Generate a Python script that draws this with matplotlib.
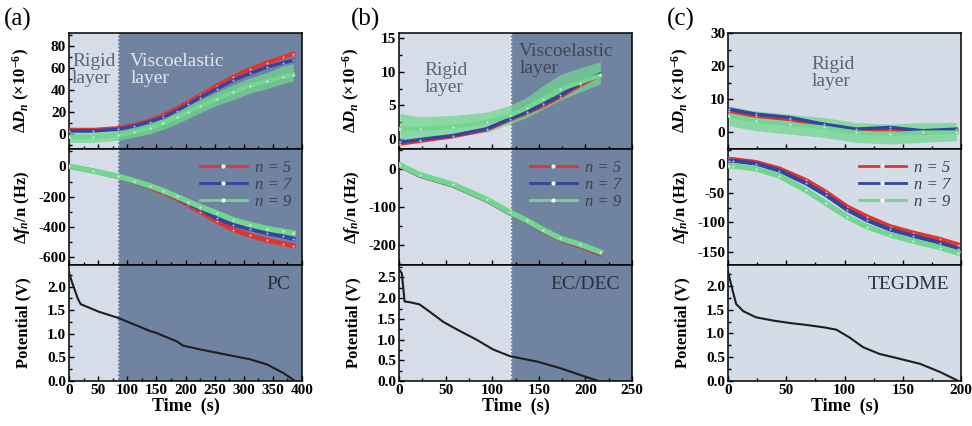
"""
QCM-D traces (dissipation, frequency, potential) for PC, EC/DEC and TEGDME
"""

import matplotlib
matplotlib.use('Agg')
import matplotlib.pyplot as plt
from matplotlib.ticker import MultipleLocator, FormatStrFormatter

plt.rcParams['font.family'] = 'Liberation Serif'
plt.rcParams['font.weight'] = 'bold'
plt.rcParams['axes.labelweight'] = 'bold'
plt.rcParams['axes.unicode_minus'] = False
plt.rcParams['mathtext.fontset'] = 'custom'
plt.rcParams['mathtext.rm'] = 'Liberation Serif:bold'
plt.rcParams['mathtext.it'] = 'Liberation Serif:bold:italic'
plt.rcParams['mathtext.bf'] = 'Liberation Serif:bold'

# ---------------- data ----------------
# (a) PC
a_t = [0, 42, 84, 112, 139, 162, 185, 205, 225, 254, 282, 311, 340, 368, 385]
a_D5 = [3.5, 3.5, 5, 8, 12, 17, 23, 29, 35, 44, 52, 59, 65, 70, 73]
a_D7 = [2.5, 2.5, 4, 7, 11, 15, 21, 27, 33, 41, 49, 55, 61, 65, 67]
a_D9 = [-3, -3, -1.5, 1.5, 5, 10, 15, 20, 25, 32, 38, 44, 48, 52, 54]
a_D9_lo = [-8, -8, -6, -3, 0, 4, 9, 14, 19, 26, 31, 37, 41, 46, 48]
a_D9_hi = [2, 2, 3, 6, 10, 15, 21, 26, 31, 38, 45, 51, 56, 62, 64]
a_f5 = [0, -30, -67, -100, -136, -172, -211, -255, -298, -362, -416, -455, -486, -509, -522]
a_f7 = [0, -30, -67, -98, -132, -165, -205, -245, -280, -341, -384, -412, -440, -462, -477]
a_f9 = [0, -30, -65, -95, -128, -160, -198, -232, -265, -308, -352, -384, -410, -428, -440]
a_tV = [0, 5, 15, 20, 51, 84, 139, 150, 185, 196, 225, 282, 311, 340, 368, 388]
a_V = [2.3, 2.1, 1.75, 1.63, 1.47, 1.34, 1.06, 1.02, 0.84, 0.75, 0.67, 0.53, 0.46, 0.35, 0.17, 0.0]

# (b) EC/DEC
b_t = [1, 22, 58, 94, 119, 137, 155, 173, 194, 216]
b_D5 = [-0.7, -0.3, 0.4, 1.4, 2.9, 3.9, 5.0, 6.3, 8.0, 9.6]
b_D7 = [-0.5, -0.1, 0.5, 1.5, 3.0, 4.0, 5.2, 6.5, 8.2, 9.7]
b_D9 = [1.5, 1.5, 1.8, 2.5, 3.5, 4.6, 6.0, 7.4, 8.4, 9.5]
b_D9_lo = [-0.5, 0.0, 0.3, 1.0, 2.2, 3.2, 4.5, 5.8, 7.0, 8.2]
b_D9_hi = [3.8, 3.3, 3.5, 4.0, 5.0, 6.2, 8.0, 9.6, 10.6, 11.5]
b_f5 = [8.6, -17, -43, -82, -116, -137, -163, -185, -202, -223]
b_f7 = [8.6, -17, -43, -82, -116, -137, -162, -184, -200, -221]
b_f9 = [10, -15, -41, -80, -114, -135, -160, -182, -198, -218]
b_tV = [0, 3, 6, 12, 22, 33, 48, 65, 83, 101, 119, 148, 173, 198, 214]
b_V = [2.7, 2.6, 1.92, 1.9, 1.85, 1.67, 1.42, 1.21, 1.0, 0.76, 0.6, 0.47, 0.31, 0.12, 0.0]

# (c) TEGDME
c_tD = [1, 24, 53, 82, 110, 139, 167, 196]
c_D5 = [6.5, 5.0, 4.0, 2.0, 0.5, 1.0, 0.0, 0.5]
c_D7 = [7.0, 5.5, 4.5, 2.5, 1.0, 1.5, 0.5, 1.0]
c_D9 = [5.0, 3.5, 2.5, 1.5, 0.0, -0.5, 0.0, 0.0]
c_D9_lo = [2.0, 0.5, -0.5, -1.5, -3.0, -3.5, -3.0, -2.5]
c_D9_hi = [8.0, 6.5, 5.5, 4.5, 3.0, 2.5, 3.0, 3.0]
c_tf = [1, 4, 24, 44, 67, 84, 102, 119, 139, 159, 182, 197]
c_f5 = [8, 8, 3, -8, -28, -48, -73, -90, -107, -118, -129, -138]
c_f7 = [6, 6, 1, -11, -33, -53, -78, -96, -112, -123, -135, -145]
c_f9 = [-3, -3, -8, -20, -45, -67, -90, -107, -121, -132, -143, -152]
c_tV = [0, 4, 7, 13, 24, 39, 53, 67, 82, 93, 104, 116, 130, 147, 165, 182, 197]
c_V = [2.3, 1.9, 1.62, 1.47, 1.34, 1.27, 1.22, 1.18, 1.13, 1.08, 0.92, 0.71, 0.57, 0.47, 0.36, 0.19, 0.01]

RED = '#e2342e'
BLUE = '#34449f'
GREEN = '#72d690'
LIGHT = '#d6dde8'
DARK = '#7083a0'
LIGHT_C = '#d4dce8'

panels = [
    dict(tag='(a)', left=69, tagx=4, xmax=400, xstep=50, split=84, name='PC',
         tD=a_t, D=(a_D5, a_D7, a_D9), Dband=(a_D9_lo, a_D9_hi),
         tf=a_t, f=(a_f5, a_f7, a_f9), tV=a_tV, V=a_V,
         Dlim=(-14, 92), Dstep=20, flim=(-650, 115), fstep=200, Vlim=(0, 2.46),
         rigid=(5, 58, '#5a6474'), visco=(105, 58, '#e2e6ec')),
    dict(tag='(b)', left=399, tagx=351, xmax=250, xstep=50, split=120, name='EC/DEC',
         tD=b_t, D=(b_D5, b_D7, b_D9), Dband=(b_D9_lo, b_D9_hi),
         tf=b_t, f=(b_f5, b_f7, b_f9), tV=b_tV, V=b_V,
         Dlim=(-1.5, 15.8), Dstep=5, flim=(-252, 52), fstep=100, Vlim=(0, 2.8),
         rigid=(27, 9.0, '#5a6474'), visco=(129, 11.7, '#3e4756')),
    dict(tag='(c)', left=728, tagx=667, xmax=200, xstep=50, split=None, name='TEGDME',
         tD=c_tD, D=(c_D5, c_D7, c_D9), Dband=(c_D9_lo, c_D9_hi),
         tf=c_tf, f=(c_f5, c_f7, c_f9), tV=c_tV, V=c_V,
         Dlim=(-5, 30), Dstep=10, flim=(-173, 26), fstep=50, Vlim=(0, 2.44),
         rigid=(72, 17.8, '#5a6474'), visco=None),
]

W, H = 972, 426
fig = plt.figure(figsize=(W / 100, H / 100), dpi=100)

ax_w = 233 / W
ax_h = 116 / H
top = 33


def style(ax, p, ylim, ystep):
    ax.set_xlim(0, p['xmax'])
    ax.set_ylim(*ylim)
    ax.xaxis.set_major_locator(MultipleLocator(p['xstep']))
    ax.xaxis.set_minor_locator(MultipleLocator(p['xstep'] / 2))
    ax.yaxis.set_major_locator(MultipleLocator(ystep))
    ax.yaxis.set_minor_locator(MultipleLocator(ystep / 2))
    ax.tick_params(which='both', direction='in', labelsize=11, pad=2)
    ax.tick_params(which='major', length=3.5, width=1)
    ax.tick_params(which='minor', length=2, width=1)
    for s in ax.spines.values():
        s.set_linewidth(1.1)
    if p['split'] is None:
        ax.set_facecolor(LIGHT_C)
    else:
        ax.axvspan(0, p['split'], color=LIGHT, lw=0, zorder=0)
        ax.axvspan(p['split'], p['xmax'], color=DARK, lw=0, zorder=0)
        ax.axvline(p['split'], color='white', ls=':', lw=1, zorder=1)


for p in panels:
    x0 = p['left'] / W
    axD = fig.add_axes([x0, 1 - (top + ax_h * H) / H, ax_w, ax_h])
    axf = fig.add_axes([x0, 1 - (top + 2 * ax_h * H) / H, ax_w, ax_h], sharex=axD)
    axV = fig.add_axes([x0, 1 - (top + 3 * ax_h * H) / H, ax_w, ax_h], sharex=axD)

    # dissipation
    style(axD, p, p['Dlim'], p['Dstep'])
    axD.fill_between(p['tD'], p['Dband'][0], p['Dband'][1], color=GREEN,
                     alpha=0.75, lw=0, zorder=2)
    axD.plot(p['tD'], p['D'][0], color=RED, lw=3, marker='o', ms=1.5,
             mfc='#ffb0b0', mec='none', zorder=3)
    axD.plot(p['tD'], p['D'][1], color=BLUE, lw=2.5, marker='o', ms=1.5,
             mfc='#aab4ff', mec='none', zorder=3)
    axD.plot(p['tD'], p['D'][2], color=GREEN, lw=3, marker='o', ms=1.5,
             mfc='#d8f5de', mec='none', zorder=4)
    axD.set_ylabel(r'$\Delta D_n$ (×10$^{-6}$)', fontsize=12)
    axD.tick_params(labelbottom=False)
    rx, ry, rc = p['rigid']
    axD.text(rx, ry, 'Rigid\nlayer', color=rc, fontsize=14, fontweight='normal',
             linespacing=1.0, va='center', ha='left', zorder=5)
    if p['visco'] is not None:
        vx, vy, vc = p['visco']
        axD.text(vx, vy, 'Viscoelastic\nlayer', color=vc, fontsize=14,
                 fontweight='normal', linespacing=1.0, va='center', ha='left', zorder=5)

    # frequency
    style(axf, p, p['flim'], p['fstep'])
    axf.plot(p['tf'], p['f'][0], color=RED, lw=3.5, marker='o', ms=1.5,
             mfc='#ffb0b0', mec='none', zorder=3, label='n = 5')
    axf.plot(p['tf'], p['f'][1], color=BLUE, lw=3, marker='o', ms=1.5,
             mfc='#aab4ff', mec='none', zorder=3, label='n = 7')
    axf.plot(p['tf'], p['f'][2], color=GREEN, lw=4, marker='o', ms=1.5,
             mfc='#d8f5de', mec='none', zorder=4, label='n = 9')
    axf.set_ylabel(r'$\Delta f_n$/n (Hz)', fontsize=12)
    axf.tick_params(labelbottom=False)
    leg = axf.legend(loc='upper right', frameon=False, handlelength=2.8,
                     handletextpad=0.5, labelspacing=0.05, borderaxespad=0.25,
                     prop=dict(family='Liberation Serif', style='italic',
                               weight='normal', size=12))
    for h in leg.legend_handles:
        h.set_linewidth(2)
        h.set_markersize(3)
        h.set_markerfacecolor('white')
    for txt in leg.get_texts():
        txt.set_color('#3a3f4a')

    # potential
    style(axV, p, p['Vlim'], 0.5)
    axV.plot(p['tV'], p['V'], color='#1e1e1e', lw=1.5, zorder=3)
    axV.yaxis.set_major_formatter(FormatStrFormatter('%.1f'))
    axV.set_ylabel('Potential (V)', fontsize=12)
    axV.set_xlabel('Time  (s)', fontsize=13, labelpad=1)
    axV.text(0.95, 0.83, p['name'], transform=axV.transAxes, ha='right', va='center',
             fontsize=14, fontweight='normal', color='#2a2f38', zorder=5)

    for ax in (axD, axf, axV):
        ax.yaxis.set_label_coords(-0.16, 0.5)

    fig.text(p['tagx'] / W, 1 - 19 / H, p['tag'], fontsize=18,
             fontweight='normal', va='center', ha='left')

fig.savefig('out.png', dpi=100)
